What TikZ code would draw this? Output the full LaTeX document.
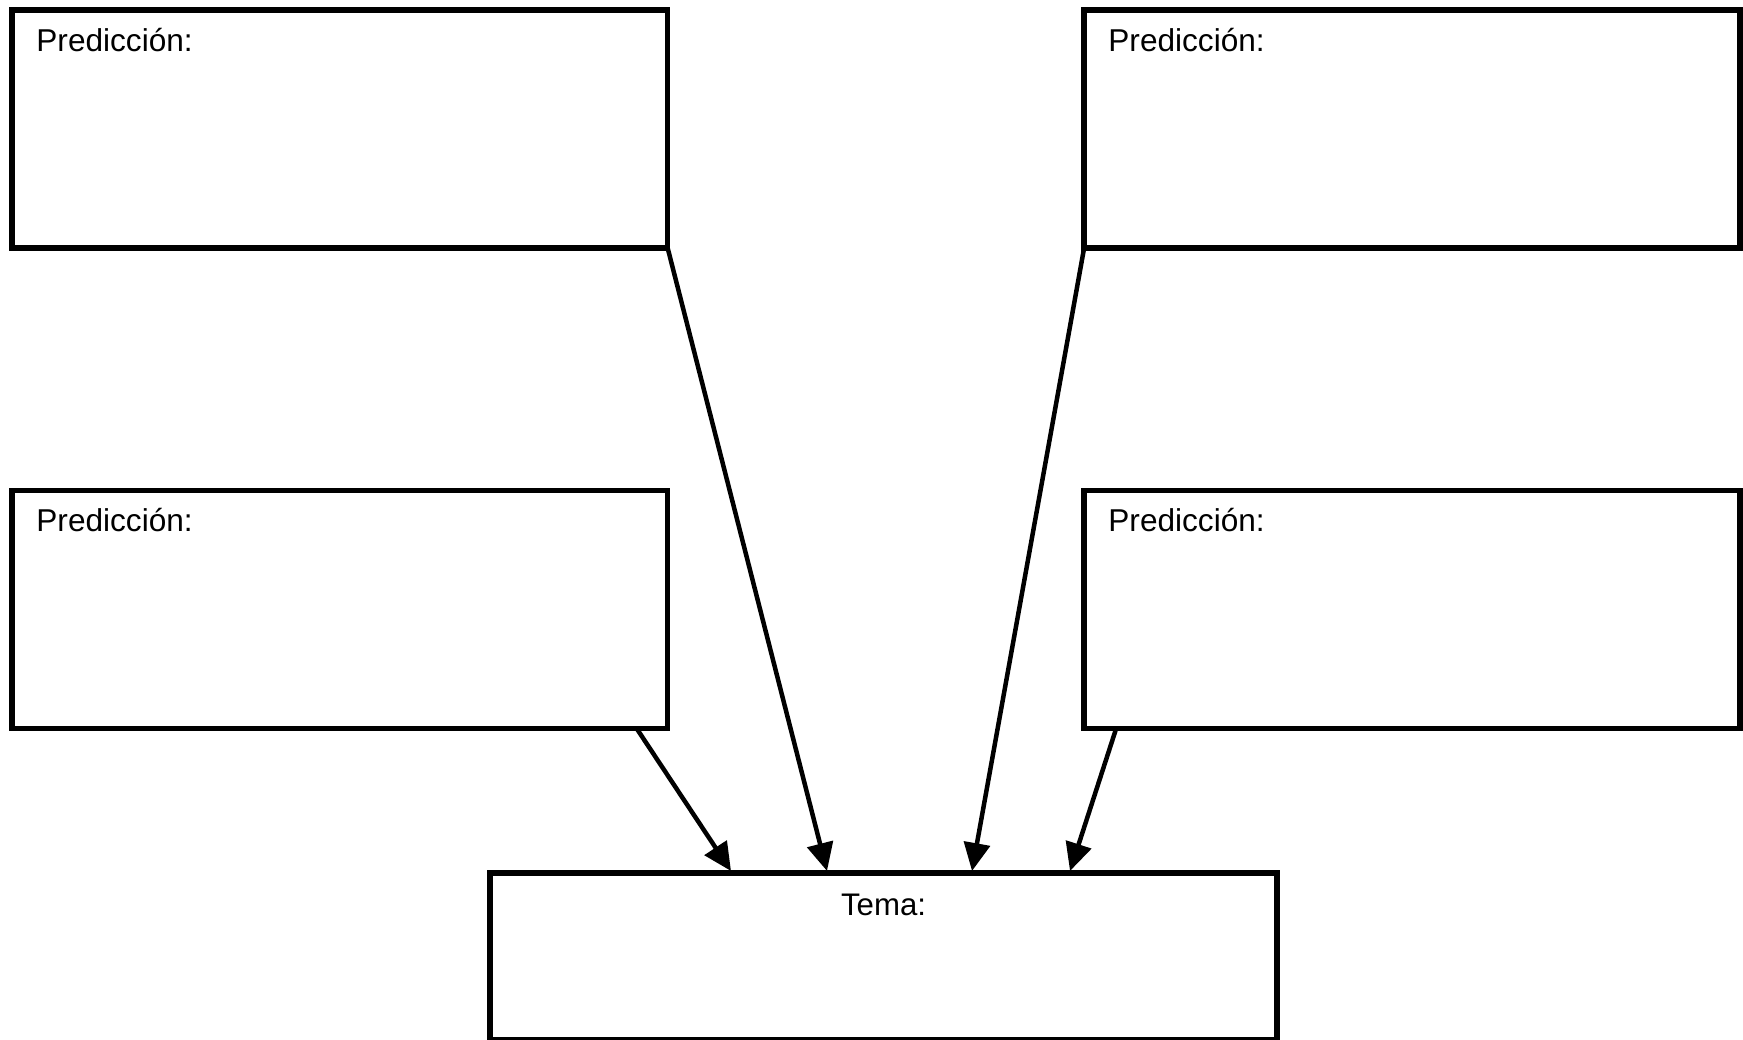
\documentclass[tikz,border=0pt]{standalone}
\usepackage{fontspec}
\setmainfont{Liberation Sans}
\usetikzlibrary{arrows.meta}
\begin{document}
\begin{tikzpicture}[x=0.5pt,y=-0.5pt,
  box/.style={draw=black,line width=2.75pt,rectangle,inner sep=0pt,outer sep=0pt,fill=white},
  predbox/.style={box,minimum width=327.9pt,minimum height=119pt},
  lbl/.style={anchor=base west,inner sep=0pt,font=\fontsize{15.8}{18}\selectfont},
  conn/.style={line width=2.25pt,-{Triangle[length=14pt,width=13pt]}}]
\useasboundingbox (0,0) rectangle (1743,1039);
\begin{scope}
\clip (0,0) rectangle (1743,1039);
% boxes
\node[predbox] (tl) at (339.75,129) {};
\node[predbox] (tr) at (1412,129) {};
\node[predbox] (bl) at (339.75,609.5) {};
\node[predbox] (br) at (1412,609.5) {};
\node[box,minimum width=393.5pt,minimum height=83.5pt] (tema) at (883.5,1040-83.5) {};
% labels
\node[lbl] (tlt) at (36,51) {Predicción:};
\node[lbl] (trt) at (1108,51) {Predicción:};
\node[lbl] (blt) at (36,531) {Predicción:};
\node[lbl] (brt) at (1108,531) {Predicción:};
\node[anchor=base,inner sep=0pt,font=\fontsize{15.6}{18}\selectfont] (temat) at (883.5,915) {Tema:};
% connector ends
\coordinate (s1) at (637,729);
\coordinate (s4) at (1116,729);
\coordinate (e1) at (731,871);
\coordinate (e2) at (827,871);
\coordinate (e3) at (972,871);
\coordinate (e4) at (1070,871);
\draw[conn] (s1) -- (e1);
\draw[conn] (tl.south east) -- (e2);
\draw[conn] (tr.south west) -- (e3);
\draw[conn] (s4) -- (e4);
\end{scope}
\end{tikzpicture}
\end{document}
